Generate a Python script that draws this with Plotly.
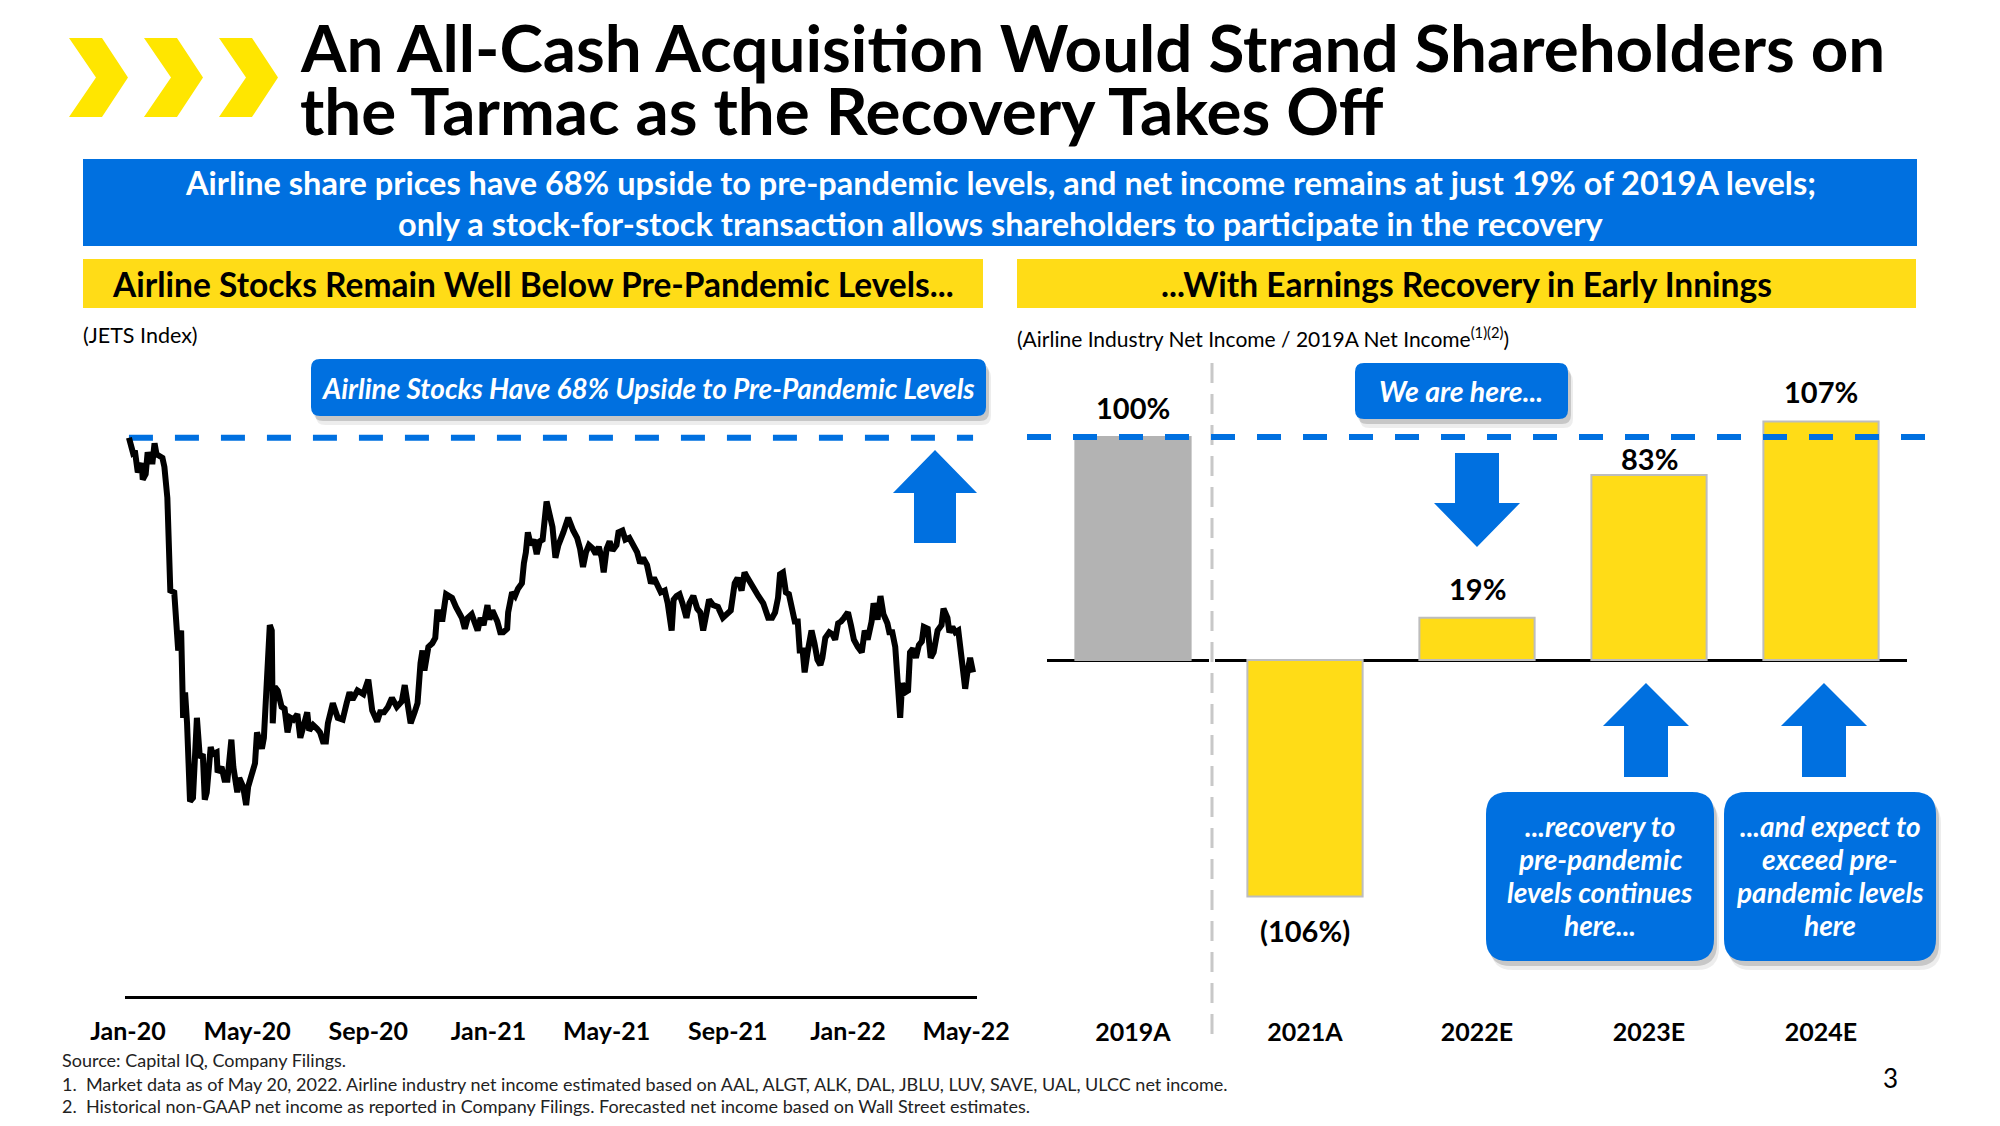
import plotly.graph_objects as go
import pandas as pd

# ---------------- DATA ----------------
TITLE_LINES = ["An All-Cash Acquisition Would Strand Shareholders on",
               "the Tarmac as the Recovery Takes Off"]
BANNER_LINES = ["Airline share prices have 68% upside to pre-pandemic levels, and net income remains at just 19% of 2019A levels;",
                "only a stock-for-stock transaction allows shareholders to participate in the recovery"]
LEFT_HEADER = "Airline Stocks Remain Well Below Pre-Pandemic Levels..."
RIGHT_HEADER = "...With Earnings Recovery in Early Innings"
LEFT_SUB = "(JETS Index)"
RIGHT_SUB = "(Airline Industry Net Income / 2019A Net Income<sup>(1)(2)</sup>)"
LEFT_CALLOUT = "Airline Stocks Have 68% Upside to Pre-Pandemic Levels"
HERE_CALLOUT = "We are here..."
CALLOUT_2023 = ["...recovery to", "pre-pandemic", "levels continues", "here..."]
CALLOUT_2024 = ["...and expect to", "exceed pre-", "pandemic levels", "here"]
FOOTNOTES = ["Source: Capital IQ, Company Filings.",
             "1.  Market data as of May 20, 2022. Airline industry net income estimated based on AAL, ALGT, ALK, DAL, JBLU, LUV, SAVE, UAL, ULCC net income.",
             "2.  Historical non-GAAP net income as reported in Company Filings. Forecasted net income based on Wall Street estimates."]
PAGE_NUMBER = "3"

# JETS index (approx. price), days since START_DATE
START_DATE = "2020-01-01"
JETS_DAYS = [
    1, 2, 5, 7, 10, 14, 15, 18, 20, 23,
    25, 27, 29, 35, 37, 40, 41, 43, 47, 49,
    51, 54, 56, 58, 60, 63, 66, 70, 73, 76,
    78, 80, 84, 86, 90, 91, 95, 98, 101, 105,
    107, 111, 113, 117, 120, 122, 126, 129, 131, 136,
    138, 141, 144, 146, 147, 149, 152, 156, 159, 162,
    165, 168, 172, 175, 178, 182, 184, 188, 192, 195,
    198, 201, 203, 208, 213, 218, 222, 225, 228, 233,
    239, 244, 248, 253, 256, 260, 264, 268, 273, 278,
    281, 284, 287, 291, 294, 297, 299, 301, 305, 309,
    312, 314, 317, 319, 323, 326, 329, 333, 336, 339,
    342, 345, 349, 352, 355, 358, 361, 365, 367, 370,
    375, 378, 381, 385, 386, 390, 393, 396, 400, 402,
    404, 406, 409, 412, 415, 418, 421, 425, 428, 431,
    434, 437, 442, 447, 452, 456, 459, 462, 465, 468,
    472, 475, 478, 481, 483, 486, 489, 492, 496, 498,
    502, 505, 509, 513, 517, 520, 523, 527, 531, 534,
    537, 541, 545, 548, 552, 554, 557, 560, 563, 567,
    570, 574, 578, 581, 584, 587, 590, 594, 599, 604,
    608, 612, 616, 619, 623, 626, 629, 633, 636, 640,
    645, 650, 654, 657, 660, 662, 665, 668, 671, 674,
    677, 680, 682, 685, 687, 690, 694, 697, 700, 703,
    705, 708, 712, 715, 718, 721, 724, 727, 731, 734,
    737, 741, 745, 748, 751, 755, 757, 761, 764, 767,
    771, 773, 776, 779, 781, 784, 786, 789, 792, 794,
    797, 800, 803, 806, 808, 812, 815, 818, 822, 826,
    828, 832, 834, 837, 840, 843, 847, 850, 852, 855,
    858]
JETS_VALUES = [
    31.7, 31.4, 30.9, 31.0, 29.8, 30.3, 29.4, 29.7, 30.9, 30.4,
    30.4, 31.4, 30.8, 30.6, 30.1, 28.4, 25.7, 23.3, 23.2, 21.1,
    20.0, 21.1, 16.3, 17.7, 16.0, 11.7, 11.9, 16.3, 14.1, 14.3,
    11.8, 12.2, 14.7, 14.3, 14.4, 13.3, 13.6, 12.9, 12.9, 15.1,
    13.6, 12.2, 13.0, 12.5, 11.5, 12.5, 13.3, 13.8, 15.5, 14.6,
    15.2, 18.2, 21.4, 21.1, 16.0, 18.0, 17.8, 16.9, 16.8, 15.5,
    16.3, 16.2, 16.5, 15.2, 15.7, 16.6, 15.6, 15.9, 15.7, 15.5,
    15.0, 15.0, 16.0, 17.1, 16.3, 16.2, 17.1, 17.7, 17.3, 17.8,
    17.6, 18.4, 16.7, 16.1, 16.6, 16.6, 16.9, 17.4, 16.9, 17.2,
    18.1, 17.1, 16.0, 16.6, 17.1, 19.3, 20.0, 18.9, 20.2, 20.4,
    20.7, 22.1, 22.1, 21.6, 23.1, 23.0, 22.9, 22.4, 22.1, 21.8,
    21.2, 21.8, 22.0, 21.6, 21.1, 21.8, 21.4, 22.5, 21.7, 22.2,
    21.6, 21.0, 21.0, 21.2, 22.1, 23.2, 23.0, 23.4, 23.7, 24.8,
    25.4, 26.5, 25.8, 26.1, 25.3, 26.0, 26.1, 28.2, 27.6, 26.8,
    25.1, 25.8, 26.5, 27.3, 26.6, 26.2, 25.6, 24.6, 25.4, 25.8,
    25.6, 25.3, 25.7, 25.1, 24.3, 25.6, 26.0, 25.5, 25.8, 26.5,
    26.6, 26.1, 26.2, 25.8, 25.4, 24.8, 25.1, 24.7, 23.7, 24.0,
    23.7, 23.2, 23.3, 22.6, 21.1, 22.8, 23.0, 23.1, 22.6, 21.8,
    22.6, 23.0, 22.3, 22.1, 21.1, 22.1, 22.8, 22.5, 22.4, 21.8,
    22.0, 22.2, 23.7, 24.0, 23.3, 24.3, 24.0, 23.6, 23.4, 23.0,
    22.6, 21.8, 21.8, 22.1, 22.9, 24.2, 24.3, 23.2, 23.1, 22.1,
    21.6, 21.6, 20.0, 20.0, 18.8, 19.9, 21.1, 20.4, 19.5, 19.2,
    19.6, 20.7, 21.0, 20.9, 20.6, 21.5, 21.6, 21.8, 22.1, 21.4,
    20.6, 20.2, 19.9, 21.1, 20.6, 21.6, 22.6, 21.7, 23.0, 22.0,
    21.5, 21.0, 21.0, 20.2, 18.4, 16.3, 18.2, 17.7, 17.8, 19.9,
    20.1, 19.6, 20.3, 20.5, 21.3, 21.2, 19.6, 19.9, 21.1, 21.4,
    22.3, 21.8, 21.0, 21.3, 21.0, 21.1, 19.3, 17.9, 18.7, 19.6,
    18.8]
TICK_MONTHS = ["2020-01-01", "2020-05-01", "2020-09-01", "2021-01-01",
               "2021-05-01", "2021-09-01", "2022-01-01", "2022-05-01"]
TICK_LABELS = ["Jan-20", "May-20", "Sep-20", "Jan-21", "May-21", "Sep-21", "Jan-22", "May-22"]

YEARS = ["2019A", "2021A", "2022E", "2023E", "2024E"]
NET_INCOME_PCT = [100, -106, 19, 83, 107]

# ---------------- STYLE ----------------
PAGE_MARGIN = 8                 # browser default body margin
W, H = 2000 - 2 * PAGE_MARGIN, 1126 - 2 * PAGE_MARGIN
FONT = "Lato"
BLUE = "#0070E0"
YELLOW = "#FFDC17"
CHEVRON = "#FFE600"
GRAY_BAR = "#B3B3B3"


def X(p):
    return (p - PAGE_MARGIN) / W


def Y(p):
    return 1 - (p - PAGE_MARGIN) / H


def poly(pts, color):
    d = "M " + " L ".join(f"{X(a):.5f},{Y(b):.5f}" for a, b in pts) + " Z"
    return dict(type="path", xref="paper", yref="paper", path=d,
                fillcolor=color, line=dict(width=0), layer="above")


def rrect(x0, y0, x1, y1, r, color):
    p = (f"M {X(x0 + r)},{Y(y0)} L {X(x1 - r)},{Y(y0)} Q {X(x1)},{Y(y0)} {X(x1)},{Y(y0 + r)} "
         f"L {X(x1)},{Y(y1 - r)} Q {X(x1)},{Y(y1)} {X(x1 - r)},{Y(y1)} "
         f"L {X(x0 + r)},{Y(y1)} Q {X(x0)},{Y(y1)} {X(x0)},{Y(y1 - r)} "
         f"L {X(x0)},{Y(y0 + r)} Q {X(x0)},{Y(y0)} {X(x0 + r)},{Y(y0)} Z")
    return dict(type="path", xref="paper", yref="paper", path=p,
                fillcolor=color, line=dict(width=0), layer="above")


def callout(x0, y0, x1, y1, r):
    return [rrect(x0 + 5, y0 + 9, x1 + 5, y1 + 9, r, "rgba(0,0,0,0.07)"),
            rrect(x0 + 3, y0 + 5, x1 + 3, y1 + 5, r, "rgba(0,0,0,0.16)"),
            rrect(x0, y0, x1, y1, r, BLUE)]


def txt(s, x, y, size, color="black", bold=False, italic=False, xanchor="center", yanchor="middle"):
    return dict(text=s, x=X(x), y=Y(y), xref="paper", yref="paper", showarrow=False,
                xanchor=xanchor, yanchor=yanchor, align="center" if xanchor == "center" else "left",
                font=dict(family=FONT, size=size, color=color,
                          weight="bold" if bold else "normal",
                          style="italic" if italic else "normal"))


def up_arrow(cx, tip, head, bottom, hw, sw):
    return poly([(cx, tip), (cx + hw, head), (cx + sw, head), (cx + sw, bottom),
                 (cx - sw, bottom), (cx - sw, head), (cx - hw, head)], BLUE)


def down_arrow(cx, top, head, tip, hw, sw):
    return poly([(cx - sw, top), (cx + sw, top), (cx + sw, head), (cx + hw, head),
                 (cx, tip), (cx - hw, head), (cx - sw, head)], BLUE)


dates = pd.Timestamp(START_DATE) + pd.to_timedelta(JETS_DAYS, unit="D")
pre_pandemic = JETS_VALUES[0]

fig = go.Figure()
fig.add_trace(go.Scatter(x=[dates[0], dates[-1]], y=[pre_pandemic, pre_pandemic], mode="lines",
                         line=dict(color=BLUE, width=6, dash="24px,22px"),
                         xaxis="x", yaxis="y", hoverinfo="skip"))
fig.add_trace(go.Scatter(x=dates, y=JETS_VALUES, mode="lines",
                         line=dict(color="black", width=6), xaxis="x", yaxis="y"))

bar_colors = [GRAY_BAR if y.startswith("2019") else YELLOW for y in YEARS]
bar_lines = [GRAY_BAR if c == GRAY_BAR else "#BDBDBD" for c in bar_colors]
fig.add_trace(go.Bar(x=YEARS, y=NET_INCOME_PCT, xaxis="x2", yaxis="y2", width=0.67,
                     marker=dict(color=bar_colors, line=dict(color=bar_lines, width=2))))

shapes = []
# chevrons
for i in range(3):
    x0 = 69 + 75 * i
    shapes.append(poly([(x0, 38), (x0 + 33, 38), (x0 + 59, 77.5), (x0 + 33, 117),
                        (x0, 117), (x0 + 27, 77.5)], CHEVRON))
# banner and headers
shapes.append(dict(type="rect", xref="paper", yref="paper", x0=X(83), x1=X(1917), y0=Y(159), y1=Y(246),
                   fillcolor=BLUE, line=dict(width=0)))
shapes.append(dict(type="rect", xref="paper", yref="paper", x0=X(83), x1=X(983), y0=Y(259), y1=Y(308),
                   fillcolor=YELLOW, line=dict(width=0)))
shapes.append(dict(type="rect", xref="paper", yref="paper", x0=X(1017), x1=X(1916), y0=Y(259), y1=Y(308),
                   fillcolor=YELLOW, line=dict(width=0)))
# small white break in the baseline where the separator crosses it
shapes.append(dict(type="rect", xref="paper", yref="paper", x0=X(1209), x1=X(1215), y0=Y(664), y1=Y(656),
                   fillcolor="white", line=dict(width=0)))
# vertical separator in right chart
shapes.append(dict(type="line", xref="paper", yref="paper", x0=X(1212), x1=X(1212), y0=Y(363), y1=Y(1040),
                   line=dict(color="#C8C8C8", width=3, dash="20px,11px")))
# right pre-pandemic dashed line
shapes.append(dict(type="line", xref="paper", yref="y2", x0=X(1027), x1=X(1928),
                   y0=NET_INCOME_PCT[0], y1=NET_INCOME_PCT[0],
                   line=dict(color=BLUE, width=6, dash="24px,22px")))
# callouts
shapes += callout(311, 359, 986, 416, 9)
shapes += callout(1355, 363, 1568, 419, 9)
shapes += callout(1486, 792, 1714, 961, 22)
shapes += callout(1724, 792, 1936, 961, 22)
# arrows
shapes.append(up_arrow(935, 450, 493, 543, 42, 21))
shapes.append(down_arrow(1477, 453, 503, 547, 43, 22))
shapes.append(up_arrow(1646, 683, 726, 777, 43, 22))
shapes.append(up_arrow(1824, 683, 726, 777, 43, 22))

ann = []
ann.append(txt(TITLE_LINES[0], 298, 47, 65.5, bold=True, xanchor="left"))
ann.append(txt(TITLE_LINES[1], 298, 110, 65.5, bold=True, xanchor="left"))
ann.append(txt(BANNER_LINES[0], 1000, 183, 32.5, color="white", bold=True))
ann.append(txt(BANNER_LINES[1], 1000, 223, 32.5, color="white", bold=True))
ann.append(txt(LEFT_HEADER, 533, 284, 33.5, bold=True))
ann.append(txt(RIGHT_HEADER, 1466, 284, 33.5, bold=True))
ann.append(txt(LEFT_SUB, 81, 335, 21.5, xanchor="left"))
ann.append(txt(RIGHT_SUB, 1015, 337, 21, xanchor="left"))
ann.append(txt(LEFT_CALLOUT, 648, 388, 28, color="white", bold=True, italic=True))
ann.append(txt(HERE_CALLOUT, 1461, 391, 28.5, color="white", bold=True, italic=True))
for k, yy in enumerate([826, 859, 892, 925]):
    ann.append(txt(CALLOUT_2023[k], 1600, yy, 28, color="white", bold=True, italic=True))
    ann.append(txt(CALLOUT_2024[k], 1830, yy, 28, color="white", bold=True, italic=True))
for line, yy in zip(FOOTNOTES, [1060, 1084, 1106]):
    ann.append(txt(line, 60, yy, 18, color="#222222", xanchor="left"))
ann.append(txt(PAGE_NUMBER, 1890, 1078, 26))

# bar value labels
label_shift = [30, -34, 29, 16, 30]
for yr, v, sh in zip(YEARS, NET_INCOME_PCT, label_shift):
    lab = f"{v}%" if v >= 0 else f"({-v}%)"
    ann.append(dict(text=lab, x=yr, y=v, xref="x2", yref="y2", yshift=sh, showarrow=False,
                    xanchor="center", yanchor="middle",
                    font=dict(family=FONT, size=29, color="black", weight="bold")))

tick_font = dict(family=FONT, size=25, color="black", weight="bold")
fig.update_layout(
    width=W, height=H, margin=dict(l=0, r=0, t=0, b=0),
    paper_bgcolor="white", plot_bgcolor="white", showlegend=False,
    bargap=0.33,
    xaxis=dict(domain=[X(125), X(977)], range=["2019-12-29", "2022-05-12"], type="date",
               anchor="y", showline=True, linecolor="black", linewidth=3, showgrid=False,
               zeroline=False, ticks="", tickvals=TICK_MONTHS, ticktext=TICK_LABELS,
               tickfont=tick_font, ticklabelstandoff=11, automargin=False),
    yaxis=dict(domain=[Y(996), Y(380)], range=[1, 34.88], visible=False, automargin=False),
    xaxis2=dict(domain=[X(1047), X(1907)], anchor="y2", type="category", showline=False,
                showgrid=False, zeroline=False, ticks="", tickfont=tick_font,
                ticklabelstandoff=19, automargin=False),
    yaxis2=dict(domain=[Y(996), Y(380)], range=[-150.67, 125.56], anchor="x2",
                showgrid=False, showticklabels=False, zeroline=True, zerolinecolor="black",
                zerolinewidth=3, automargin=False),
    shapes=shapes, annotations=ann,
)

fig.write_html("out.html")
